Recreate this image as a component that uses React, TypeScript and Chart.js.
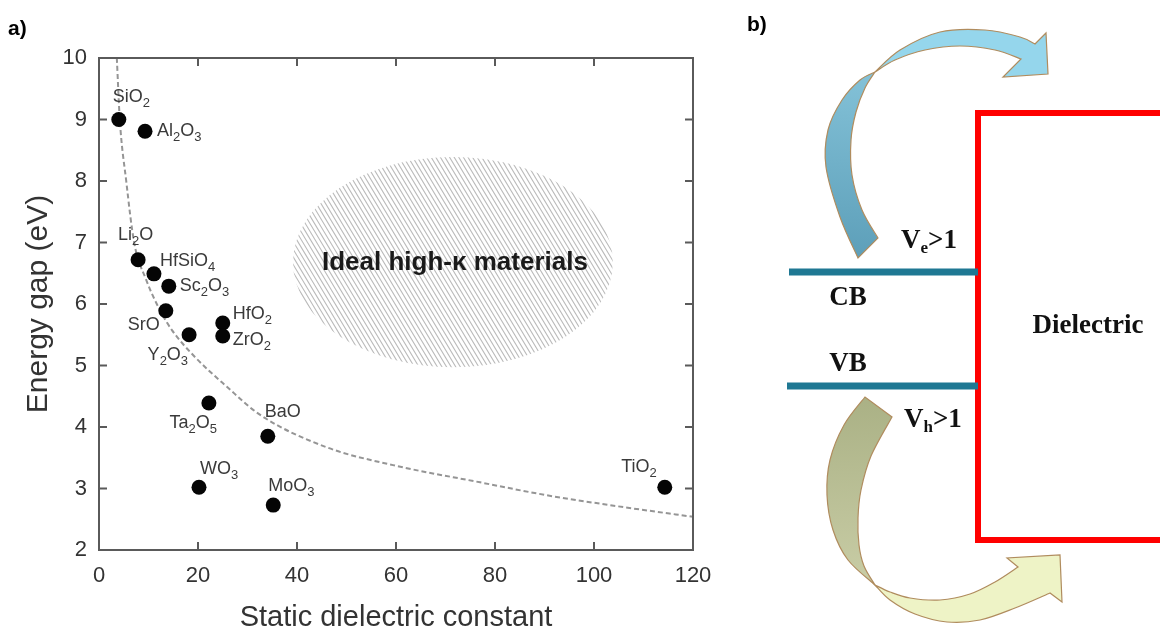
import React, { useEffect, useRef } from 'react';
import { Chart, registerables } from 'chart.js';

Chart.register(...registerables);

// ---------- Panel a) data ----------
const materials = ['SiO₂', 'Al₂O₃', 'Li₂O', 'HfSiO₄', 'Sc₂O₃', 'SrO', 'Y₂O₃', 'HfO₂', 'ZrO₂', 'Ta₂O₅', 'BaO', 'WO₃', 'MoO₃', 'TiO₂'];
const dielectricConstant = [4.0, 9.3, 7.9, 11.1, 14.1, 13.5, 18.2, 25.0, 25.0, 22.2, 34.1, 20.2, 35.2, 114.3];
const energyGap = [9.0, 8.81, 6.72, 6.49, 6.29, 5.89, 5.5, 5.69, 5.48, 4.39, 3.85, 3.02, 2.73, 3.02];

const trendKappa = [3.6, 4.2, 5.5, 7.1, 9.5, 12.3, 14.7, 19, 25.9, 32.5, 46, 59.4, 77, 90.5, 104, 120];
const trendGap = [10, 9, 8, 7, 6.4, 5.9, 5.58, 5.17, 4.65, 4.2, 3.67, 3.38, 3.1, 2.89, 2.72, 2.54];

const xTickValues = [0, 20, 40, 60, 80, 100, 120];
const yTickValues = [2, 3, 4, 5, 6, 7, 8, 9, 10];

const idealRegionText = 'Ideal high-κ materials';
const idealRegionCenter = [71.5, 6.68];
const idealRegionRadius = [32.3, 1.71];

const xAxisTitle = 'Static dielectric constant';
const yAxisTitle = 'Energy gap (eV)';

// label placement (pixels from the marker): dx, dy, align
const labelPlacement: [number, number, string][] = [
  [-6, -22, 'left'], [12, 0, 'left'], [-20, -25, 'left'], [6, -13, 'left'], [11, 0, 'left'],
  [-6, 14, 'right'], [-1, 20, 'right'], [10, -9, 'left'], [10, 4, 'left'], [8, 20, 'right'],
  [-3, -24, 'left'], [1, -18, 'left'], [-5, -19, 'left'], [-8, -20, 'right'],
];

// ---------- Panel b) schematic ----------
const cbX = [49, 238];
const cbY = [272, 272];
const vbX = [47, 238];
const vbY = [386, 386];
const dielectricX = [420, 238, 238, 420];
const dielectricY = [113, 113, 540, 540];

const SANS = '"Liberation Sans", Arial, Helvetica, sans-serif';
const SERIF = '"Liberation Serif", "Times New Roman", serif';

type P = [number, number];

function drawChem(ctx: CanvasRenderingContext2D, label: string, x: number, y: number, size: number, align: string) {
  const SUB = '₀₁₂₃₄₅₆₇₈₉';
  const runs: { text: string; sub: boolean; w: number }[] = [];
  for (const ch of label) {
    const i = SUB.indexOf(ch);
    const sub = i >= 0;
    const t = sub ? String(i) : ch;
    if (runs.length && runs[runs.length - 1].sub === sub) runs[runs.length - 1].text += t;
    else runs.push({ text: t, sub, w: 0 });
  }
  const fontFor = (sub: boolean) => `${sub ? Math.round(size * 0.72) : size}px ${SANS}`;
  let w = 0;
  for (const r of runs) {
    ctx.font = fontFor(r.sub);
    r.w = ctx.measureText(r.text).width;
    w += r.w;
  }
  let cx = align === 'right' ? x - w : align === 'center' ? x - w / 2 : x;
  ctx.textAlign = 'left';
  ctx.textBaseline = 'middle';
  for (const r of runs) {
    ctx.font = fontFor(r.sub);
    ctx.fillText(r.text, cx, r.sub ? y + size * 0.35 : y);
    cx += r.w;
  }
}

function curveThrough(ctx: CanvasRenderingContext2D, pts: P[]) {
  for (let i = 0; i < pts.length - 1; i++) {
    const p0 = pts[i - 1] || pts[i];
    const p1 = pts[i];
    const p2 = pts[i + 1];
    const p3 = pts[i + 2] || p2;
    ctx.bezierCurveTo(
      p1[0] + (p2[0] - p0[0]) / 6, p1[1] + (p2[1] - p0[1]) / 6,
      p2[0] - (p3[0] - p1[0]) / 6, p2[1] - (p3[1] - p1[1]) / 6,
      p2[0], p2[1]
    );
  }
}

const panelAPlugin = {
  id: 'panelA',
  beforeDatasetsDraw(chart: any) {
    const { ctx, scales } = chart;
    const x = scales.x, y = scales.y;
    const cx = x.getPixelForValue(idealRegionCenter[0]);
    const cy = y.getPixelForValue(idealRegionCenter[1]);
    const rx = Math.abs(x.getPixelForValue(idealRegionCenter[0] + idealRegionRadius[0]) - cx);
    const ry = Math.abs(y.getPixelForValue(idealRegionCenter[1] + idealRegionRadius[1]) - cy);
    ctx.save();
    ctx.beginPath();
    ctx.ellipse(cx, cy, rx, ry, 0, 0, Math.PI * 2);
    ctx.clip();
    ctx.strokeStyle = 'rgba(140,140,140,0.6)';
    ctx.lineWidth = 1.1;
    ctx.beginPath();
    const slope = 0.6;
    const h = 2 * ry + 6;
    for (let s = cx - rx - h * slope - 10; s < cx + rx + 10; s += 4.6) {
      ctx.moveTo(s, cy - ry - 3);
      ctx.lineTo(s + h * slope, cy + ry + 3);
    }
    ctx.stroke();
    ctx.restore();

    ctx.save();
    ctx.fillStyle = '#1a1a1a';
    ctx.font = `bold 26px ${SANS}`;
    ctx.textAlign = 'center';
    ctx.textBaseline = 'middle';
    ctx.fillText(idealRegionText, cx + 2, cy + 1);
    ctx.restore();
  },
  afterDatasetsDraw(chart: any) {
    const { ctx, chartArea: a, scales } = chart;
    const x = scales.x, y = scales.y;
    ctx.save();
    ctx.strokeStyle = '#5a5a5a';
    ctx.lineWidth = 2;
    ctx.strokeRect(a.left, a.top, a.right - a.left, a.bottom - a.top);
    ctx.beginPath();
    for (const v of xTickValues) {
      const px = x.getPixelForValue(v);
      ctx.moveTo(px, a.bottom); ctx.lineTo(px, a.bottom - 8);
      ctx.moveTo(px, a.top); ctx.lineTo(px, a.top + 8);
    }
    for (const v of yTickValues) {
      const py = y.getPixelForValue(v);
      ctx.moveTo(a.left, py); ctx.lineTo(a.left + 8, py);
      ctx.moveTo(a.right, py); ctx.lineTo(a.right - 8, py);
    }
    ctx.stroke();

    ctx.fillStyle = '#3a3a3a';
    materials.forEach((m, i) => {
      const px = x.getPixelForValue(dielectricConstant[i]);
      const py = y.getPixelForValue(energyGap[i]);
      const [dx, dy, al] = labelPlacement[i];
      drawChem(ctx, m, px + dx, py + dy, 18, al);
    });

    ctx.fillStyle = '#000';
    ctx.font = `bold 21px ${SANS}`;
    ctx.textAlign = 'left';
    ctx.textBaseline = 'middle';
    ctx.fillText('a)', 8, 29);
    ctx.restore();
  },
};

const topArrow = {
  back: { outer: [[118, 258], [100, 217], [86, 167], [88, 130], [102, 100], [120, 80], [135, 72]] as P[], inner: [[135, 72], [125, 88], [116, 112], [111, 140], [112, 175], [122, 210], [138, 238]] as P[] },
  front: {
    upper: [[135, 72], [160, 50], [200, 32], [245, 30], [280, 37], [295, 44]] as P[],
    head: [[306, 33], [308, 74], [263, 77], [281, 59]] as P[],
    lower: [[281, 59], [255, 50], [220, 46], [185, 50], [155, 60], [135, 72]] as P[],
  },
  backColors: ['#5d9fb9', '#84c2d8'],
  frontColor: '#95d6ec',
};

const bottomArrow = {
  back: { outer: [[125, 397], [104, 425], [90, 460], [87, 495], [93, 530], [108, 560], [135, 585]] as P[], inner: [[135, 585], [124, 566], [119, 545], [118, 518], [121, 490], [131, 456], [152, 417]] as P[] },
  front: {
    upper: [[135, 585], [150, 600], [175, 614], [207, 622], [240, 620], [275, 608], [310, 593]] as P[],
    head: [[322, 602], [320, 555], [267, 558], [278, 567]] as P[],
    lower: [[278, 567], [255, 582], [230, 594], [200, 600], [170, 598], [150, 592], [135, 585]] as P[],
  },
  backColors: ['#aab185', '#c9cda6'],
  frontColor: '#eef3c6',
};

function drawArrow(ctx: CanvasRenderingContext2D, arrow: any, toPx: (p: P) => P) {
  const outline = '#b08c5e';
  const outer = arrow.back.outer.map(toPx);
  const inner = arrow.back.inner.map(toPx);
  const g = ctx.createLinearGradient(outer[0][0], outer[0][1], outer[outer.length - 1][0], outer[outer.length - 1][1]);
  g.addColorStop(0, arrow.backColors[0]);
  g.addColorStop(1, arrow.backColors[1]);
  ctx.beginPath();
  ctx.moveTo(outer[0][0], outer[0][1]);
  curveThrough(ctx, outer);
  curveThrough(ctx, inner);
  ctx.closePath();
  ctx.fillStyle = g;
  ctx.fill();
  ctx.strokeStyle = outline;
  ctx.lineWidth = 1.2;
  ctx.stroke();
  const upper = arrow.front.upper.map(toPx);
  const head = arrow.front.head.map(toPx);
  const lower = arrow.front.lower.map(toPx);
  ctx.beginPath();
  ctx.moveTo(upper[0][0], upper[0][1]);
  curveThrough(ctx, upper);
  for (const p of head) ctx.lineTo(p[0], p[1]);
  curveThrough(ctx, lower);
  ctx.closePath();
  ctx.fillStyle = arrow.frontColor;
  ctx.fill();
  ctx.stroke();
}

function drawRich(ctx: CanvasRenderingContext2D, parts: [string, number, number][], x: number, y: number) {
  let cx = x;
  ctx.textAlign = 'left';
  ctx.textBaseline = 'middle';
  for (const [t, size, dy] of parts) {
    ctx.font = `bold ${size}px ${SERIF}`;
    ctx.fillText(t, cx, y + dy);
    cx += ctx.measureText(t).width;
  }
}

const panelBPlugin = {
  id: 'panelB',
  beforeDatasetsDraw(chart: any) {
    const { ctx, scales } = chart;
    const toPx = (p: P): P => [scales.x.getPixelForValue(p[0]), scales.y.getPixelForValue(p[1])];
    ctx.save();
    drawArrow(ctx, topArrow, toPx);
    drawArrow(ctx, bottomArrow, toPx);
    ctx.restore();
  },
  afterDatasetsDraw(chart: any) {
    const { ctx, scales } = chart;
    const X = (v: number) => scales.x.getPixelForValue(v);
    const Y = (v: number) => scales.y.getPixelForValue(v);
    ctx.save();
    ctx.fillStyle = '#111';
    ctx.font = `bold 27px ${SERIF}`;
    ctx.textAlign = 'center';
    ctx.textBaseline = 'middle';
    ctx.fillText('CB', X(108), Y(298));
    ctx.fillText('VB', X(108), Y(364));
    ctx.fillText('Dielectric', X(348), Y(326));
    drawRich(ctx, [['V', 27, 0], ['e', 17, 8], ['>1', 27, 0]], X(161), Y(241));
    drawRich(ctx, [['V', 27, 0], ['h', 17, 8], ['>1', 27, 0]], X(164), Y(420));
    ctx.fillStyle = '#000';
    ctx.font = `bold 21px ${SANS}`;
    ctx.textAlign = 'left';
    ctx.fillText('b)', X(7), Y(25));
    ctx.restore();
  },
};

export default function App() {
  const refA = useRef<HTMLCanvasElement>(null);
  const refB = useRef<HTMLCanvasElement>(null);

  useEffect(() => {
    const chartA = new Chart(refA.current as HTMLCanvasElement, {
      type: 'scatter',
      data: {
        datasets: [
          {
            type: 'scatter',
            label: 'Oxides',
            data: dielectricConstant.map((k, i) => ({ x: k, y: energyGap[i] })),
            backgroundColor: '#050505',
            borderWidth: 0,
            pointRadius: 7.5,
            order: 0,
          } as any,
          {
            type: 'line',
            label: 'Trend',
            data: trendKappa.map((k, i) => ({ x: k, y: trendGap[i] })),
            borderColor: '#959595',
            borderWidth: 2,
            borderDash: [5, 3],
            pointRadius: 0,
            fill: false,
            cubicInterpolationMode: 'monotone',
            order: 1,
          } as any,
        ],
      },
      options: {
        animation: false,
        responsive: false,
        devicePixelRatio: 1,
        layout: { padding: { top: 58, right: 47, left: 0, bottom: 0 } },
        plugins: { legend: { display: false }, tooltip: { enabled: false } },
        scales: {
          x: {
            type: 'linear',
            min: 0,
            max: 120,
            afterFit: (s: any) => { s.height = 85; },
            afterBuildTicks: (s: any) => { s.ticks = xTickValues.map((v) => ({ value: v })); },
            ticks: { stepSize: 20, autoSkip: false, maxRotation: 0, padding: 13, color: '#333', font: { family: SANS, size: 22 } },
            grid: { display: false, drawTicks: false },
            border: { display: false },
            title: { display: true, text: xAxisTitle, color: '#333', padding: { top: 0, bottom: 0 }, font: { family: SANS, size: 29 } },
          },
          y: {
            type: 'linear',
            min: 2,
            max: 10,
            afterFit: (s: any) => { s.width = 99; },
            afterBuildTicks: (s: any) => { s.ticks = yTickValues.map((v) => ({ value: v })); },
            ticks: { stepSize: 1, autoSkip: false, padding: 12, color: '#333', font: { family: SANS, size: 22 } },
            grid: { display: false, drawTicks: false },
            border: { display: false },
            title: { display: true, text: yAxisTitle, color: '#333', padding: { top: 21, bottom: 0 }, font: { family: SANS, size: 30 } },
          },
        },
      } as any,
      plugins: [panelAPlugin],
    });

    const chartB = new Chart(refB.current as HTMLCanvasElement, {
      type: 'line',
      data: {
        datasets: [
          {
            label: 'CB',
            data: cbX.map((v, i) => ({ x: v, y: cbY[i] })),
            borderColor: '#1f7893',
            borderWidth: 7,
            pointRadius: 0,
            borderCapStyle: 'butt',
          },
          {
            label: 'VB',
            data: vbX.map((v, i) => ({ x: v, y: vbY[i] })),
            borderColor: '#1f7893',
            borderWidth: 7,
            pointRadius: 0,
            borderCapStyle: 'butt',
          },
          {
            label: 'Dielectric',
            data: dielectricX.map((v, i) => ({ x: v, y: dielectricY[i] })),
            borderColor: '#ff0000',
            borderWidth: 6,
            pointRadius: 0,
            borderJoinStyle: 'miter',
            borderCapStyle: 'butt',
          },
        ] as any,
      },
      options: {
        animation: false,
        responsive: false,
        devicePixelRatio: 1,
        layout: { padding: 0 },
        plugins: { legend: { display: false }, tooltip: { enabled: false } },
        scales: {
          x: { type: 'linear', display: false, min: 0, max: 420 },
          y: { type: 'linear', display: false, min: 0, max: 635, reverse: true },
        },
      } as any,
      plugins: [panelBPlugin],
    });

    return () => {
      chartA.destroy();
      chartB.destroy();
    };
  }, []);

  return (
    <div style={{ position: 'fixed', left: 0, top: 0, width: 1160, height: 635, background: '#fff', overflow: 'hidden' }}>
      <canvas ref={refA} width={740} height={635} style={{ position: 'absolute', left: 0, top: 0 }} />
      <canvas ref={refB} width={420} height={635} style={{ position: 'absolute', left: 740, top: 0 }} />
    </div>
  );
}
